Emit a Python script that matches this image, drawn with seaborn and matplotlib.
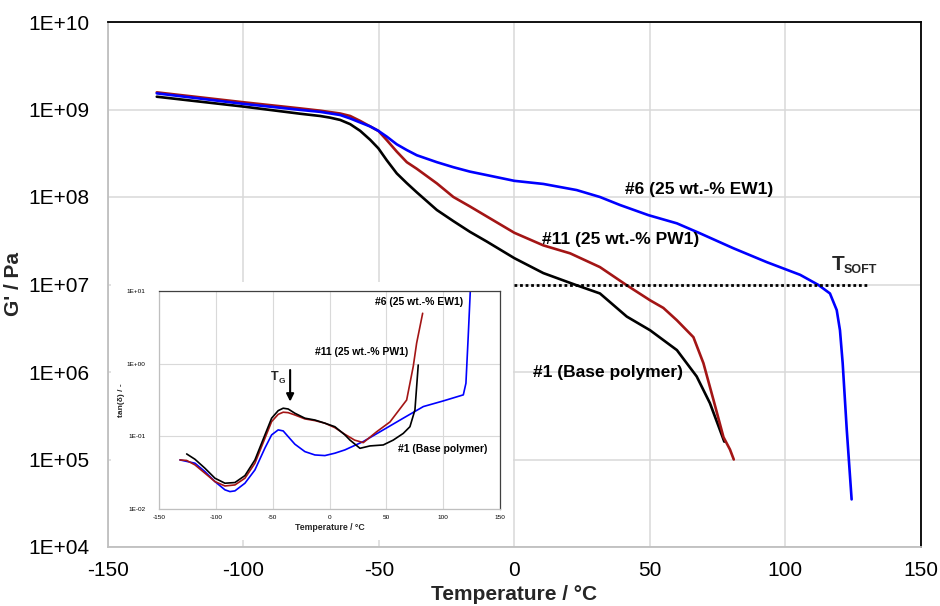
import numpy as np
import pandas as pd
import matplotlib
matplotlib.use("Agg")
import matplotlib.pyplot as plt
import seaborn as sns
from matplotlib import font_manager
from matplotlib.ticker import FixedLocator, FuncFormatter, NullLocator

# ---- main plot: storage modulus G' vs temperature ----
t_base = [-132, -100, -79.1, -71.7, -68, -64.3, -60.6, -56.9, -53.2, -50.2, -47.1, -43.4,
          -39.7, -36, -28.6, -22.5, -16.4, -10.2, 0, 10.7, 23, 31.6, 41.5, 50.1, 60,
          67.3, 72.2, 77.5]
g_base = [1.40e9, 1.08e9, 8.95e8, 8.43e8, 8.07e8, 7.6e8, 6.8e8, 5.7e8, 4.5e8, 3.6e8, 2.63e8, 1.86e8,
          1.44e8, 1.13e8, 7.1e7, 5.3e7, 4.0e7, 3.1e7, 2.0e7, 1.35e7, 9.8e6, 7.9e6, 4.3e6, 3.0e6, 1.78e6,
          8.9e5, 4.4e5, 1.6e5]

t_pw1 = [-132, -100, -79.1, -71.7, -64.3, -60.6, -56.9, -53.2, -50.2, -47.1, -43.4, -39.7,
         -36, -28.6, -22.5, -16.4, -10.2, 0, 10.7, 20.6, 31.6, 41.5, 50.1, 55, 60,
         66.1, 69.8, 73.5, 77.2, 79.6, 81]
g_pw1 = [1.57e9, 1.21e9, 1.03e9, 9.7e8, 9.0e8, 8.43e8, 7.4e8, 6.4e8, 5.7e8, 4.47e8, 3.3e8, 2.5e8,
         2.1e8, 1.43e8, 1.0e8, 7.8e7, 6.0e7, 3.9e7, 2.8e7, 2.27e7, 1.58e7, 9.8e6, 6.6e6, 5.4e6, 3.9e6,
         2.5e6, 1.26e6, 4.8e5, 1.8e5, 1.3e5, 1.0e5]

t_ew1 = [-132, -100, -79.1, -71.7, -64.3, -60.6, -56.9, -53.2, -50.2, -47.1, -43.4, -39.7,
         -36, -28.6, -22.5, -16.4, -10.2, 0, 10.7, 23, 31.6, 39, 49.5, 60, 68.5,
         80.8, 93.2, 105.5, 112.2, 116.5, 119, 120.2, 121.2, 122.7, 124.5]
g_ew1 = [1.53e9, 1.16e9, 9.9e8, 9.4e8, 8.65e8, 7.9e8, 7.1e8, 6.4e8, 5.7e8, 4.9e8, 4.0e8, 3.44e8,
         3.0e8, 2.5e8, 2.19e8, 1.95e8, 1.78e8, 1.53e8, 1.41e8, 1.2e8, 1.0e8, 8.1e7, 6.2e7, 5.0e7, 3.85e7,
         2.6e7, 1.8e7, 1.29e7, 9.9e6, 7.9e6, 5.1e6, 3.0e6, 1.26e6, 2.2e5, 3.5e4]

tsoft_x = [0, 130]
tsoft_level = 1e7

# ---- inset: tan(delta) vs temperature ----
ti_base = [-125.9, -118.6, -109.8, -101, -92.2, -83.4, -74.6, -65.8, -57, -51.1, -45.3, -40.9,
           -36.5, -30.6, -21.8, -13, -4.2, 4.6, 13.4, 17.9, 26.7, 35.5, 47.2, 56, 64.8,
           70.7, 75.1, 78]
tan_base = [0.0575, 0.0486, 0.0366, 0.0267, 0.0228, 0.0233, 0.029, 0.0476, 0.105, 0.178, 0.226, 0.244,
            0.238, 0.208, 0.178, 0.168, 0.152, 0.136, 0.105, 0.0891, 0.0687, 0.0741, 0.0764, 0.0891, 0.11,
            0.136, 0.231, 0.955]

ti_pw1 = [-131.8, -125.9, -118.6, -109.8, -101, -92.2, -83.4, -74.6, -65.8, -57, -51.1, -45.3,
          -40.9, -36.5, -30.6, -21.8, -13, -4.2, 4.6, 13.4, 22, 29.6, 41.4, 53.1, 67.8,
          73.6, 76.6, 81.9]
tan_pw1 = [0.0476, 0.0468, 0.0407, 0.0313, 0.024, 0.0209, 0.0216, 0.0267, 0.0429, 0.0944, 0.16, 0.201,
           0.215, 0.212, 0.197, 0.174, 0.165, 0.152, 0.132, 0.107, 0.089, 0.0822, 0.116, 0.158, 0.316,
           0.912, 1.91, 4.9]

ti_ew1 = [-131.8, -118.6, -109.8, -101, -92.2, -87.8, -83.4, -74.6, -65.8, -57, -51.1, -45.3,
          -40.9, -36.5, -30.6, -21.8, -13, -4.2, 4.6, 13.4, 29.6, 47.2, 64.8, 82.5, 100,
          117.7, 120, 122, 124]
tan_ew1 = [0.0476, 0.0429, 0.0329, 0.024, 0.0185, 0.0175, 0.0179, 0.0228, 0.0347, 0.0692, 0.105, 0.123,
           0.119, 0.0993, 0.0782, 0.0619, 0.0557, 0.0546, 0.0589, 0.0653, 0.0851, 0.123, 0.178, 0.257, 0.307,
           0.372, 0.537, 2.34, 11.2]

x_ticks = [-150, -100, -50, 0, 50, 100, 150]
main_decades = [1e4, 1e5, 1e6, 1e7, 1e8, 1e9, 1e10]
inset_decades = [1e-2, 1e-1, 1e0, 1e1]

BLUE = "#0000FF"
RED = "#A31515"
BLACK = "#000000"
GRID = "#d9d9d9"


def sci_label(v, _pos=None):
    return f"1E{int(round(np.log10(v))):+03d}"


def pick_font():
    names = {f.name for f in font_manager.fontManager.ttflist}
    for n in ("Liberation Sans", "Arial", "DejaVu Sans"):
        if n in names:
            return n
    return "DejaVu Sans"


sns.set_theme(style="whitegrid")
fam = pick_font()
plt.rcParams["font.family"] = [fam, "DejaVu Sans"]
plt.rcParams["axes.unicode_minus"] = False

fig = plt.figure(figsize=(9.4, 6.06), dpi=100)
ax = fig.add_axes([108 / 940, 59 / 606, 812.7 / 940, 525 / 606])
ax.set_facecolor("white")
ax.set_yscale("log")

main_df = pd.concat([
    pd.DataFrame({"T": t_base, "G": g_base, "s": "#1"}),
    pd.DataFrame({"T": t_pw1, "G": g_pw1, "s": "#11"}),
    pd.DataFrame({"T": t_ew1, "G": g_ew1, "s": "#6"}),
])
pal = {"#1": BLACK, "#11": RED, "#6": BLUE}
sns.lineplot(data=main_df, x="T", y="G", hue="s", palette=pal, estimator=None,
             sort=False, lw=1.9, legend=False, ax=ax)
ax.plot(tsoft_x, [tsoft_level, tsoft_level], color="black", lw=2.0,
        ls=(0, (1, 1)))

ax.set_xlim(-150, 150)
ax.set_ylim(1e4, 1e10)
ax.xaxis.set_major_locator(FixedLocator(x_ticks))
ax.yaxis.set_major_locator(FixedLocator(main_decades))
ax.yaxis.set_minor_locator(NullLocator())
ax.yaxis.set_major_formatter(FuncFormatter(sci_label))
ax.grid(True, color=GRID, lw=1.1)
for s in ("top", "right"):
    ax.spines[s].set_color("black")
    ax.spines[s].set_linewidth(1.3)
for s in ("left", "bottom"):
    ax.spines[s].set_color("#bfbfbf")
    ax.spines[s].set_linewidth(1.3)
ax.tick_params(axis="both", labelsize=15, colors="black", length=0)
ax.tick_params(axis="y", pad=13)
ax.tick_params(axis="x", pad=10)
ax.set_xlabel("Temperature / °C", fontsize=15, fontweight="bold", labelpad=4)
ax.set_ylabel("G' / Pa", fontsize=15, fontweight="bold", labelpad=4)

lab_kw = dict(fontsize=12.5, fontweight="bold", color="black", ha="left", va="center")
ax.text(40.8, 10 ** 8.088, "#6 (25 wt.-% EW1)", **lab_kw)
ax.text(10.1, 10 ** 7.517, "#11 (25 wt.-% PW1)", **lab_kw)
ax.text(6.9, 10 ** 5.989, "#1 (Base polymer)", **lab_kw)
ax.text(117.2, 10 ** 7.234, "T", fontsize=15, fontweight="bold", ha="left", va="center")
ax.text(121.4, 10 ** 7.17, "SOFT", fontsize=9, fontweight="bold", ha="left", va="center")

# white box behind the inset (hides the main grid)
bg = fig.add_axes([111 / 940, 66 / 606, 402 / 940, 258 / 606])
bg.set_facecolor("white")
bg.set_xticks([])
bg.set_yticks([])
bg.grid(False)
for s in bg.spines.values():
    s.set_visible(False)

ax_in = fig.add_axes([159.3 / 940, 96.7 / 606, 340.7 / 940, 218.6 / 606])
ax_in.set_facecolor("white")
ax_in.set_yscale("log")
inset_df = pd.concat([
    pd.DataFrame({"T": ti_ew1, "tan": tan_ew1, "s": "#6"}),
    pd.DataFrame({"T": ti_pw1, "tan": tan_pw1, "s": "#11"}),
    pd.DataFrame({"T": ti_base, "tan": tan_base, "s": "#1"}),
])
sns.lineplot(data=inset_df, x="T", y="tan", hue="s", palette=pal, estimator=None,
             sort=False, lw=1.2, legend=False, ax=ax_in)
ax_in.set_xlim(-150, 150)
ax_in.set_ylim(1e-2, 1e1)
ax_in.xaxis.set_major_locator(FixedLocator(x_ticks))
ax_in.yaxis.set_major_locator(FixedLocator(inset_decades))
ax_in.yaxis.set_minor_locator(NullLocator())
ax_in.yaxis.set_major_formatter(FuncFormatter(sci_label))
ax_in.grid(True, color=GRID, lw=0.8)
for s in ("top", "right"):
    ax_in.spines[s].set_color("#404040")
    ax_in.spines[s].set_linewidth(0.9)
for s in ("left", "bottom"):
    ax_in.spines[s].set_color("#bfbfbf")
    ax_in.spines[s].set_linewidth(0.9)
ax_in.tick_params(axis="both", labelsize=4.6, colors="black", length=0)
ax_in.tick_params(axis="y", pad=10)
ax_in.tick_params(axis="x", pad=4)
ax_in.set_xlabel("Temperature / °C", fontsize=6.3, fontweight="bold", labelpad=2)
ax_in.set_ylabel("tan(δ) / -", fontsize=6, fontweight="bold", labelpad=1)

in_kw = dict(fontsize=7.5, fontweight="bold", color="black", ha="left", va="center")
ax_in.text(39.9, 10 ** 0.849, "#6 (25 wt.-% EW1)", **in_kw)
ax_in.text(-12.9, 10 ** 0.163, "#11 (25 wt.-% PW1)", **in_kw)
ax_in.text(60.4, 10 ** -1.171, "#1 (Base polymer)", **in_kw)
ax_in.text(-51.5, 10 ** -0.184, "T", fontsize=9, fontweight="bold", ha="left", va="center")
ax_in.text(-44.6, 10 ** -0.25, "G", fontsize=6, fontweight="bold", ha="left", va="center")
ax_in.annotate("", xy=(-34.8, 10 ** -0.56), xytext=(-34.8, 10 ** -0.05),
               arrowprops=dict(arrowstyle="-|>", color="black", lw=1.5, mutation_scale=11))

fig.savefig("out.png", dpi=100, facecolor="white")
